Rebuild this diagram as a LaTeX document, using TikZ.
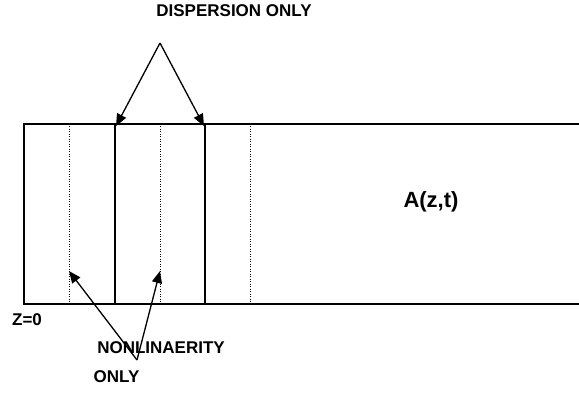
\documentclass[tikz,border=0pt]{standalone}
\usepackage{fontspec}
\setmainfont{Liberation Sans}
\usetikzlibrary{arrows.meta}
\begin{document}
\begin{tikzpicture}[x=1pt,y=-1pt,
  lbl/.style={font=\fontsize{17}{20}\selectfont\bfseries, inner sep=0pt},
  biglbl/.style={font=\fontsize{22}{26}\selectfont\bfseries, inner sep=0pt},
  edge/.style={line width=1.3pt},
  dotline/.style={line width=0.8pt, dash pattern=on 1pt off 1.5pt},
  ptr/.style={line width=1.3pt, -{Triangle[length=12pt,width=10pt]}}]
\useasboundingbox (0,0) rectangle (579,392);
% frame
\coordinate (tl) at (24,124);
\coordinate (bl) at (24,304);
\coordinate (tr) at (579,124);
\coordinate (br) at (579,304);
\draw[edge] (tr) -- (tl) -- (bl) -- (br);
% solid section lines
\coordinate (s1t) at (115,124); \coordinate (s1b) at (115,304);
\coordinate (s2t) at (205,124); \coordinate (s2b) at (205,304);
\draw[edge] (s1t) -- (s1b);
\draw[edge] (s2t) -- (s2b);
% dotted lines
\coordinate (d1t) at (69,126); \coordinate (d1b) at (69,302);
\coordinate (d2t) at (160,126); \coordinate (d2b) at (160,302);
\coordinate (d3t) at (250,126); \coordinate (d3b) at (250,302);
\draw[dotline] (d1t) -- (d1b);
\draw[dotline] (d2t) -- (d2b);
\draw[dotline] (d3t) -- (d3b);
% labels
\node[lbl] (disp) at (234,11) {DISPERSION ONLY};
\node[biglbl] (azt) at (431,202) {A(z,t)};
\node[lbl] (z0) at (27,320) {Z=0};
\node[lbl] (nonlin) at (161,348) {NONLINAERITY};
\node[lbl] (only) at (116.5,377) {ONLY};
% dispersion arrows
\coordinate (apex) at (160,43);
\coordinate (h1) at (116,126);
\coordinate (h2) at (204,126);
\draw[ptr] (apex) -- (h1);
\draw[ptr] (apex) -- (h2);
% nonlinearity arrows
\coordinate (nbase) at (137,360);
\coordinate (n1) at (69,271);
\coordinate (n2) at (160,271);
\draw[ptr] (nbase) -- (n1);
\draw[ptr] (nbase) -- (n2);
\end{tikzpicture}
\end{document}
